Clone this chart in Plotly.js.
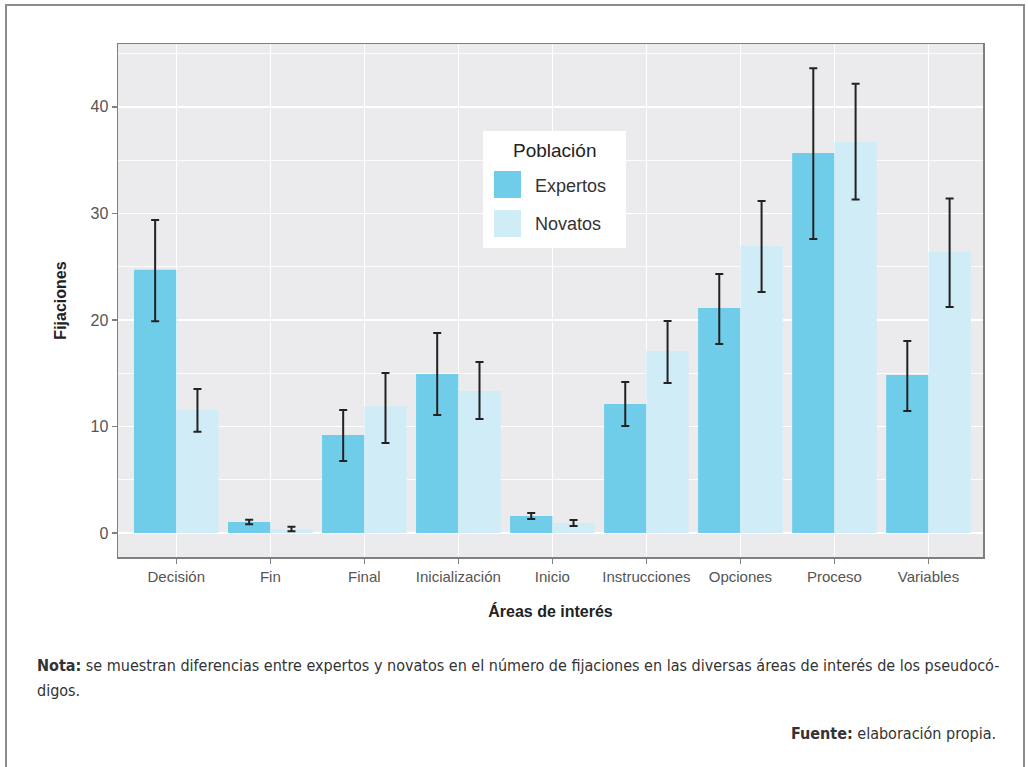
<!DOCTYPE html>
<html><head><meta charset="utf-8">
<script src="https://cdn.plot.ly/plotly-3.0.1.min.js"></script>
<style>
html,body{margin:0;padding:0;background:#fff;}
#wrap{position:relative;width:1028px;height:767px;}
#chart{position:absolute;left:0;top:0;width:1028px;height:767px;}
#frame{position:absolute;left:5px;top:4px;width:1016px;height:780px;border:2px solid #8c8c8c;pointer-events:none;}
</style></head>
<body><div id="wrap"><div id="chart"></div><div id="frame"></div></div>
<script>
const categories = ["Decisión","Fin","Final","Inicialización","Inicio","Instrucciones","Opciones","Proceso","Variables"];
const expertos = [24.7, 1.03, 9.2, 14.93, 1.6, 12.11, 21.13, 35.68, 14.84];
const expertosUpper = [29.39, 1.25, 11.55, 18.78, 1.88, 14.18, 24.32, 43.63, 18.03];
const expertosLower = [19.88, 0.82, 6.76, 11.08, 1.31, 10.05, 17.75, 27.6, 11.46];
const novatos = [11.55, 0.38, 11.9, 13.33, 0.94, 17.09, 26.95, 36.71, 26.38];
const novatosUpper = [13.52, 0.59, 15.02, 16.06, 1.22, 19.9, 31.17, 42.16, 31.39];
const novatosLower = [9.51, 0.16, 8.45, 10.7, 0.66, 14.08, 22.63, 31.3, 21.22];
const yTicks = [0, 10, 20, 30, 40];

const colExp = "#70cdea", colNov = "#d0ecf6";
const font = "'Liberation Sans', Arial, sans-serif";
const noteFont = "'Liberation Sans Narrow','DejaVu Sans Condensed','Liberation Sans',Arial,sans-serif";

function errBar(vals, up, lo){
  return {type:"data", symmetric:false,
    array: up.map((u,i)=>u-vals[i]), arrayminus: lo.map((l,i)=>vals[i]-l),
    color:"#222222", thickness:2, width:4};
}
const traces = [
  {type:"bar", name:"Expertos", x:categories, y:expertos, marker:{color:colExp},
   error_y: errBar(expertos, expertosUpper, expertosLower), showlegend:false},
  {type:"bar", name:"Novatos", x:categories, y:novatos, marker:{color:colNov},
   error_y: errBar(novatos, novatosUpper, novatosLower), showlegend:false}
];

const L = 118, R = 983, T = 44, B = 557;
const px = x => (x - L)/(R - L);
const py = y => (B - y)/(B - T);

const layout = {
  width:1028, height:767,
  margin:{l:L, r:1028-R, t:T, b:767-B, pad:0},
  paper_bgcolor:"#ffffff", plot_bgcolor:"#ebebed",
  barmode:"group", bargap:0.1, bargroupgap:0,
  font:{family:font, color:"#4d4d4d", size:15},
  xaxis:{
    type:"category", range:[-0.62, 8.58],
    showgrid:true, gridcolor:"#ffffff", gridwidth:1.5,
    showline:true, mirror:true, linecolor:"#7f7f7f", linewidth:1.5,
    ticks:"outside", ticklen:5, tickcolor:"#7f7f7f", tickwidth:1.5,
    tickfont:{size:15, color:"#555555"},
    title:{text:"<b>Áreas de interés</b>", font:{size:16, color:"#222"}, standoff:22},
    automargin:false, zeroline:false, fixedrange:true
  },
  yaxis:{
    range:[-2.25, 45.9], tickvals:yTicks, ticktext:yTicks.map(String),
    showgrid:true, gridcolor:"#ffffff", gridwidth:1.5,
    minor:{dtick:5, tick0:5, showgrid:true, gridcolor:"#fcfcfc", gridwidth:1},
    showline:true, mirror:true, linecolor:"#7f7f7f", linewidth:1.5,
    ticks:"outside", ticklen:5, tickcolor:"#7f7f7f", tickwidth:1.5,
    tickfont:{size:16, color:"#555555"},
    title:{text:"<b>Fijaciones</b>", font:{size:16, color:"#222"}, standoff:20},
    automargin:false, zeroline:false, fixedrange:true
  },
  shapes:[
    {type:"rect", xref:"paper", yref:"paper", x0:px(483), x1:px(626), y0:py(248), y1:py(131),
     fillcolor:"#ffffff", line:{width:0}},
    {type:"rect", xref:"paper", yref:"paper", x0:px(494), x1:px(521), y0:py(198), y1:py(171),
     fillcolor:colExp, line:{width:0}},
    {type:"rect", xref:"paper", yref:"paper", x0:px(494), x1:px(521), y0:py(237), y1:py(210),
     fillcolor:colNov, line:{width:0}}
  ],
  annotations:[
    {xref:"paper", yref:"paper", x:px(554), y:py(150), text:"Población", showarrow:false,
     xanchor:"center", yanchor:"middle", font:{size:19, color:"#222"}},
    {xref:"paper", yref:"paper", x:px(533), y:py(186), text:"Expertos", showarrow:false,
     xanchor:"left", yanchor:"middle", font:{size:18, color:"#333"}},
    {xref:"paper", yref:"paper", x:px(533), y:py(224), text:"Novatos", showarrow:false,
     xanchor:"left", yanchor:"middle", font:{size:18, color:"#333"}},
    {xref:"paper", yref:"paper", x:px(35), y:py(665),
     text:"<b>Nota:</b> se muestran diferencias entre expertos y novatos en el número de fijaciones en las diversas áreas de interés de los pseudocó-",
     showarrow:false, xanchor:"left", yanchor:"middle",
     font:{size:16, color:"#333", family:noteFont}},
    {xref:"paper", yref:"paper", x:px(35), y:py(690), text:"digos.",
     showarrow:false, xanchor:"left", yanchor:"middle",
     font:{size:16, color:"#333", family:noteFont}},
    {xref:"paper", yref:"paper", x:px(998), y:py(733), text:"<b>Fuente:</b> elaboración propia.",
     showarrow:false, xanchor:"right", yanchor:"middle",
     font:{size:16, color:"#333", family:noteFont}}
  ]
};
Plotly.newPlot("chart", traces, layout, {displayModeBar:false, staticPlot:true});
</script></body></html>
